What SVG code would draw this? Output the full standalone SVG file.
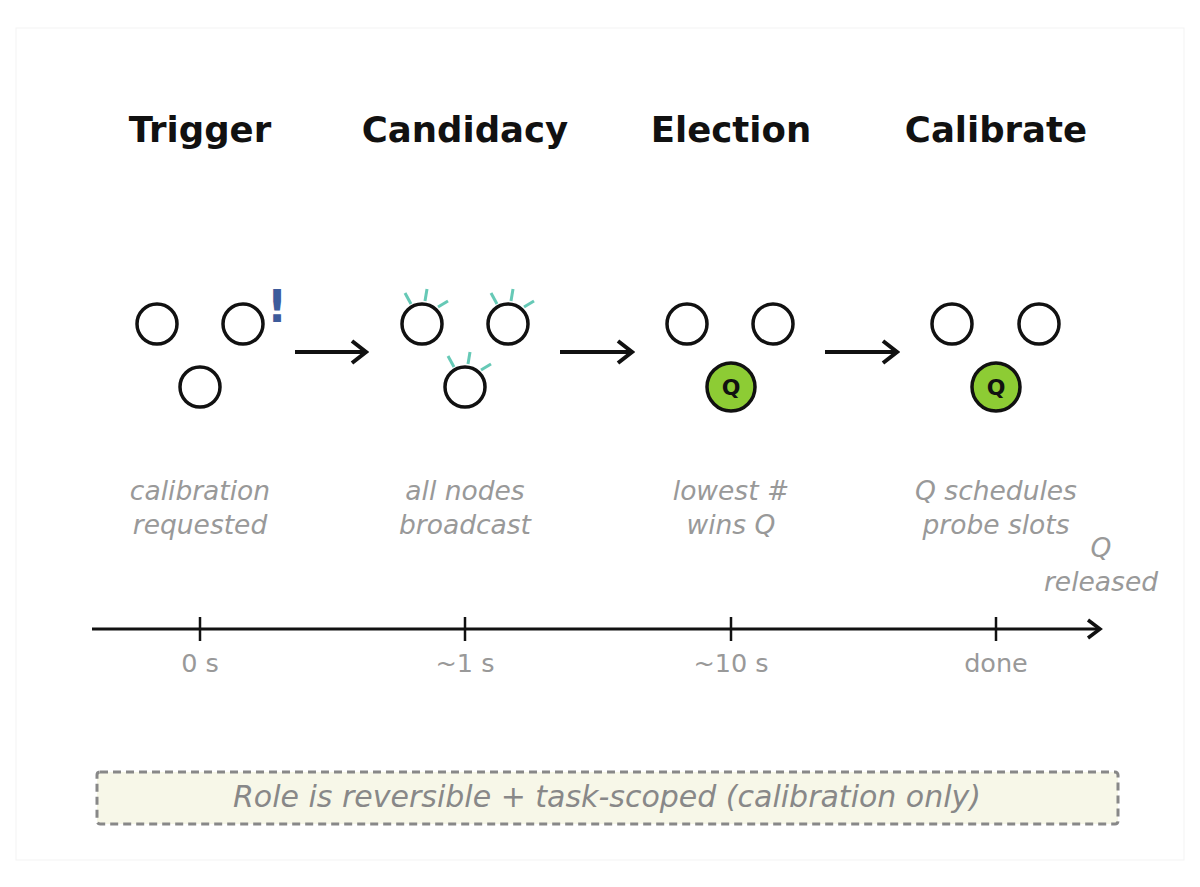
<svg xmlns="http://www.w3.org/2000/svg" width="1200" height="887" viewBox="0 0 1200 887">
<defs>
<style>
.title{font-family:"DejaVu Sans",sans-serif;font-weight:bold;font-size:35.5px;fill:#111;text-anchor:middle}
.lbl{font-family:"DejaVu Sans",sans-serif;font-style:italic;font-size:26.5px;fill:#999;text-anchor:middle}
.note{font-family:"DejaVu Sans",sans-serif;font-style:italic;font-size:30px;fill:#888;text-anchor:middle}
.tk{font-family:"DejaVu Sans",sans-serif;font-size:25.5px;fill:#999;text-anchor:middle}
.node{fill:#fff;stroke:#111;stroke-width:3.5}
.q{fill:#8dcc34;stroke:#111;stroke-width:3.5}
.qt{font-family:"DejaVu Sans",sans-serif;font-weight:bold;font-size:22px;fill:#111;text-anchor:middle}
.ray{stroke:#66c9b6;stroke-width:3;stroke-linecap:butt}
.arr{stroke:#111;stroke-width:4;fill:none}
</style>
<marker id="ah" viewBox="0 0 20 28" refX="17" refY="14" markerWidth="20" markerHeight="28" markerUnits="userSpaceOnUse" orient="auto">
<path d="M3,3 L17,14 L3,25" fill="none" stroke="#111" stroke-width="4"/>
</marker>
<marker id="ah2" viewBox="0 0 18 24" refX="15" refY="12" markerWidth="18" markerHeight="24" markerUnits="userSpaceOnUse" orient="auto">
<path d="M3,3 L15,12 L3,21" fill="none" stroke="#111" stroke-width="3.5"/>
</marker>
<g id="rays">
<line class="ray" x1="-11" y1="-20" x2="-17" y2="-31"/>
<line class="ray" x1="3" y1="-23" x2="5" y2="-35"/>
<line class="ray" x1="16" y1="-17" x2="26" y2="-23"/>
</g>
</defs>
<rect x="0" y="0" width="1200" height="887" fill="#fff"/>
<rect x="16" y="28" width="1168" height="832" fill="#fff" stroke="#f3f3f3" stroke-width="1"/>

<g id="stage-trigger">
<text class="title" x="200" y="142">Trigger</text>
<circle class="node" cx="157" cy="324" r="20"/>
<circle class="node" cx="243" cy="324" r="20"/>
<circle class="node" cx="200" cy="387" r="20"/>
<text x="277" y="322" font-family="DejaVu Sans,sans-serif" font-weight="bold" font-size="44" fill="#3d5b9b" text-anchor="middle">!</text>
<text class="lbl" x="200" y="500">calibration</text>
<text class="lbl" x="200" y="534">requested</text>
</g>

<g id="stage-candidacy">
<text class="title" x="465" y="142">Candidacy</text>
<circle class="node" cx="422" cy="324" r="20"/>
<circle class="node" cx="508" cy="324" r="20"/>
<circle class="node" cx="465" cy="387" r="20"/>
<use href="#rays" x="422" y="324"/>
<use href="#rays" x="508" y="324"/>
<use href="#rays" x="465" y="387"/>
<text class="lbl" x="465" y="500">all nodes</text>
<text class="lbl" x="465" y="534">broadcast</text>
</g>

<g id="stage-election">
<text class="title" x="731" y="142">Election</text>
<circle class="node" cx="687" cy="324" r="20"/>
<circle class="node" cx="773" cy="324" r="20"/>
<circle class="q" cx="731" cy="387" r="24"/>
<text class="qt" x="731" y="395">Q</text>
<text class="lbl" x="731" y="500">lowest #</text>
<text class="lbl" x="731" y="534">wins Q</text>
</g>

<g id="stage-calibrate">
<text class="title" x="996" y="142">Calibrate</text>
<circle class="node" cx="952" cy="324" r="20"/>
<circle class="node" cx="1039" cy="324" r="20"/>
<circle class="q" cx="996" cy="387" r="24"/>
<text class="qt" x="996" y="395">Q</text>
<text class="lbl" x="996" y="500">Q schedules</text>
<text class="lbl" x="996" y="534">probe slots</text>
</g>

<g id="connectors">
<line class="arr" x1="295" y1="352" x2="366" y2="352" marker-end="url(#ah)"/>
<line class="arr" x1="560" y1="352" x2="632" y2="352" marker-end="url(#ah)"/>
<line class="arr" x1="825" y1="352" x2="897" y2="352" marker-end="url(#ah)"/>
</g>

<g id="timeline">
<line x1="92" y1="629" x2="1100" y2="629" stroke="#111" stroke-width="3" marker-end="url(#ah2)"/>
<line x1="200" y1="617" x2="200" y2="641" stroke="#111" stroke-width="2.5"/>
<line x1="465" y1="617" x2="465" y2="641" stroke="#111" stroke-width="2.5"/>
<line x1="731" y1="617" x2="731" y2="641" stroke="#111" stroke-width="2.5"/>
<line x1="996" y1="617" x2="996" y2="641" stroke="#111" stroke-width="2.5"/>
<text class="tk" x="200" y="672">0 s</text>
<text class="tk" x="465" y="672">~1 s</text>
<text class="tk" x="731" y="672">~10 s</text>
<text class="tk" x="996" y="672">done</text>
<text class="lbl" x="1101" y="557">Q</text>
<text class="lbl" x="1101" y="591">released</text>
</g>

<g id="note">
<rect x="97" y="772" width="1021" height="52" rx="3" fill="#f7f7e8" stroke="#888" stroke-width="3" stroke-dasharray="8 5"/>
<text class="note" x="607" y="807">Role is reversible + task-scoped (calibration only)</text>
</g>
</svg>
